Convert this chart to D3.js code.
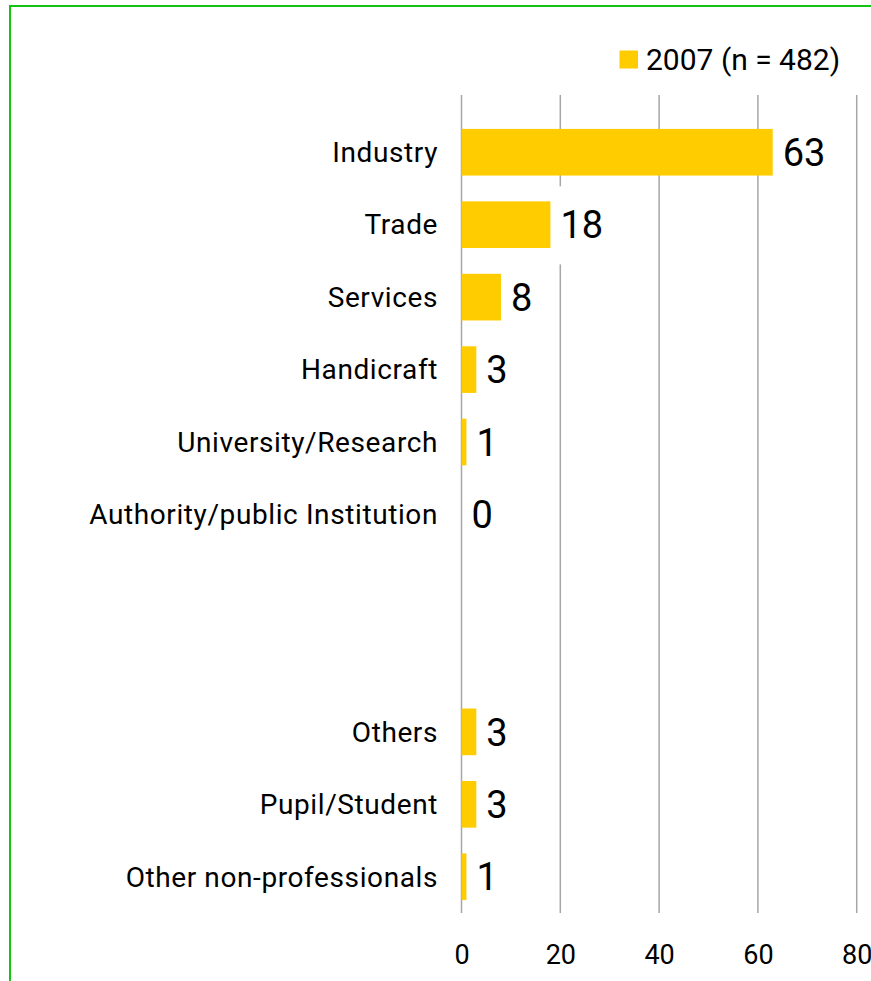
<!DOCTYPE html>
<html>
<head>
<meta charset="utf-8">
<script src="https://cdn.jsdelivr.net/npm/d3@7"></script>
<style>
  html, body { margin: 0; padding: 0; background: #fff; }
  svg { display: block; }
  text { font-family: Roboto, "Liberation Sans", sans-serif; fill: #000; }
</style>
</head>
<body>
<svg id="chart" width="871" height="981"></svg>
<script>
// Occupational field of respondents, share in percent
const categories = [
  "Industry", "Trade", "Services", "Handicraft", "University/Research",
  "Authority/public Institution", "", " ", "Others", "Pupil/Student",
  "Other non-professionals"
];
const values = [63, 18, 8, 3, 1, 0, null, null, 3, 3, 1];
const tickValues = [0, 20, 40, 60, 80];
const seriesName = "2007 (n = 482)";

const svg = d3.select("#chart");
const W = 871, H = 981;

// frame
svg.append("rect")
  .attr("x", 10).attr("y", 6)
  .attr("width", W + 20).attr("height", H + 20)
  .attr("fill", "none")
  .attr("stroke", "#14c414")
  .attr("stroke-width", 2);

const x = d3.scaleLinear().domain([0, 80]).range([461.5, 856.7]);
const y = d3.scaleBand().domain(categories).range([116, 913]).paddingInner(0.356).paddingOuter(0.178);

const gridTop = 95, gridBottom = 913;

// vertical gridlines
svg.append("g").selectAll("line").data(tickValues).join("line")
  .attr("x1", d => x(d)).attr("x2", d => x(d))
  .attr("y1", gridTop).attr("y2", gridBottom)
  .attr("stroke", "#a6a6a6").attr("stroke-width", 1.5);

// x axis tick labels
const xAxis = d3.axisBottom(x).tickValues(tickValues).tickSize(0).tickPadding(0);
const gx = svg.append("g").attr("transform", `translate(0,${gridBottom})`).call(xAxis);
gx.select(".domain").remove();
gx.selectAll("text")
  .attr("y", 42).attr("dy", "0.35em")
  .style("font-family", "Roboto, sans-serif")
  .style("font-size", "27px")
  .attr("fill", "#000");

const rows = categories.map((c, i) => ({ c, v: values[i] })).filter(d => d.v !== null);

// bars
svg.append("g").selectAll("rect").data(rows).join("rect")
  .attr("x", x(0))
  .attr("y", d => y(d.c))
  .attr("width", d => x(d.v) - x(0))
  .attr("height", y.bandwidth())
  .attr("fill", "#ffcc00");

// category labels
svg.append("g").selectAll("text").data(rows).join("text")
  .attr("x", 438)
  .attr("y", d => y(d.c) + y.bandwidth() / 2)
  .attr("dy", "0.35em")
  .attr("text-anchor", "end")
  .style("font-size", "28px")
  .style("letter-spacing", "0.6px")
  .text(d => d.c);

// value labels on white boxes
const lab = svg.append("g").selectAll("g").data(rows).join("g");
lab.append("text")
  .attr("x", d => x(d.v) + 10)
  .attr("y", d => y(d.c) + y.bandwidth() / 2)
  .attr("dy", "0.36em")
  .style("font-size", "38px")
  .text(d => d.v);
lab.each(function () {
  const g = d3.select(this);
  const bb = g.select("text").node().getBBox();
  const cy = bb.y + bb.height / 2;
  g.insert("rect", "text")
    .attr("x", bb.x - 6).attr("width", bb.width + 12)
    .attr("y", cy - 39).attr("height", 78)
    .attr("fill", "#fff");
});

// legend
const lg = svg.append("g");
lg.append("rect").attr("x", 619.5).attr("y", 50.5).attr("width", 18.5).attr("height", 18).attr("fill", "#ffcc00");
lg.append("text").attr("x", 646).attr("y", 59.5).attr("dy", "0.35em")
  .style("font-size", "30px")
  .text(seriesName);
</script>
</body>
</html>
